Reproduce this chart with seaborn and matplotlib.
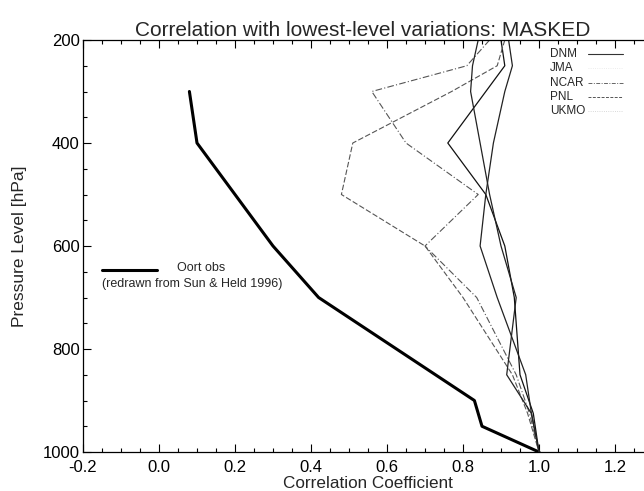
import numpy as np
import pandas as pd
import matplotlib
matplotlib.use("Agg")
import matplotlib.pyplot as plt
from matplotlib.ticker import MultipleLocator
from matplotlib.lines import Line2D
import seaborn as sns

# ---- data ----
oort_levels = [300, 400, 500, 600, 700, 900, 950, 1000]
oort_corr = [0.08, 0.10, 0.20, 0.30, 0.42, 0.83, 0.85, 1.00]

levels = [200, 250, 300, 400, 500, 600, 700, 850, 925, 1000]
dnm = [0.90, 0.91, 0.86, 0.76, 0.86, 0.91, 0.935, 0.95, 0.985, 1.00]
jma = [0.92, 0.93, 0.91, 0.88, 0.86, 0.845, 0.89, 0.965, 0.98, 1.00]
ncar = [0.87, 0.81, 0.56, 0.65, 0.84, 0.70, 0.836, 0.94, 0.975, 1.00]
pnl = [0.91, 0.89, 0.77, 0.51, 0.48, 0.70, 0.80, 0.93, 0.97, 1.00]
ukmo = [0.84, 0.825, 0.82, 0.845, 0.87, 0.90, 0.94, 0.915, 0.98, 1.00]

model_names = ["DNM", "JMA", "NCAR", "PNL", "UKMO"]
model_values = [dnm, jma, ncar, pnl, ukmo]

x_ticks = [-0.2, 0.0, 0.2, 0.4, 0.6, 0.8, 1.0, 1.2]
y_ticks = [200, 400, 600, 800, 1000]

title = "Correlation with lowest-level variations: MASKED"
xlabel = "Correlation Coefficient"
ylabel = "Pressure Level [hPa]"

# ---- figure ----
sns.set_theme(style="ticks")
plt.rcParams["font.family"] = ["Liberation Sans", "DejaVu Sans"]

fig = plt.figure(figsize=(6.44, 4.91), dpi=100)
ax = fig.add_axes([83 / 644, 1 - 452 / 491, (653 - 83) / 644, (452 - 40) / 491])

df_oort = pd.DataFrame({"corr": oort_corr, "p": oort_levels})
sns.lineplot(data=df_oort, x="corr", y="p", orient="y", sort=False,
             estimator=None, color="black", linewidth=2.2, ax=ax)

styles = {
    "DNM": dict(color="#111111", linestyle="-", linewidth=0.9),
    "JMA": dict(color="#222222", linestyle="-", linewidth=0.9),
    "NCAR": dict(color="#555555", linestyle=(0, (6, 2, 1, 2)), linewidth=0.8),
    "PNL": dict(color="#555555", linestyle=(0, (5, 2)), linewidth=0.8),
    "UKMO": dict(color="#222222", linestyle="-", linewidth=0.9),
}
legend_styles = {
    "DNM": dict(color="#333333", linestyle="-", linewidth=0.8),
    "JMA": dict(color="#e6e6e6", linestyle=":", linewidth=0.6),
    "NCAR": dict(color="#666666", linestyle=(0, (4, 1.5, 1, 1.5)), linewidth=0.7),
    "PNL": dict(color="#555555", linestyle=(0, (3, 1.5)), linewidth=0.7),
    "UKMO": dict(color="#cccccc", linestyle=":", linewidth=0.6),
}
for name, vals in zip(model_names, model_values):
    d = pd.DataFrame({"corr": vals, "p": levels})
    sns.lineplot(data=d, x="corr", y="p", orient="y", sort=False,
                 estimator=None, ax=ax, **styles[name])

ax.set_xlim(-0.2, 1.3)
ax.set_ylim(1000, 200)
ax.set_xticks(x_ticks)
ax.set_xticklabels([f"{t:.1f}" for t in x_ticks])
ax.set_yticks(y_ticks)
ax.xaxis.set_minor_locator(MultipleLocator(0.05))
ax.yaxis.set_minor_locator(MultipleLocator(50))
ax.tick_params(which="both", direction="in", top=True, right=True,
               labelsize=12, width=0.8, colors="black")
ax.tick_params(axis="x", which="major", pad=6)
ax.tick_params(axis="y", which="major", pad=2.5)
ax.tick_params(which="major", length=6)
ax.tick_params(which="minor", length=3)
for s in ax.spines.values():
    s.set_linewidth(0.9)
    s.set_color("black")

ax.set_title(title, fontsize=15, pad=2, x=0.49)
ax.set_xlabel(xlabel, fontsize=12.3, va="baseline")
ax.xaxis.set_label_coords(0.5, -(488 - 452) / 412)
ax.set_ylabel(ylabel, fontsize=12.5, va="center")
ax.yaxis.set_label_coords((20 - 83) / 570, 0.5)

# model legend: label on the left, line sample on the right
leg_x_text = (550 - 83) / 570
leg_x0, leg_x1 = (588 - 83) / 570, (623 - 83) / 570
leg_y0, leg_dy = (452 - 54) / 412, 14.3 / 412
for i, name in enumerate(model_names):
    y = leg_y0 - i * leg_dy
    ax.text(leg_x_text, y, name, transform=ax.transAxes, fontsize=8.5,
            ha="left", va="center")
    ax.add_line(Line2D([leg_x0, leg_x1], [y, y], transform=ax.transAxes,
                       **legend_styles[name]))

# Oort legend
ax.add_line(Line2D([(102 - 83) / 570, (157 - 83) / 570], [0.4417, 0.4417],
                   transform=ax.transAxes, color="black", linewidth=2.2))
ax.text((177 - 83) / 570, 0.447, "Oort obs", transform=ax.transAxes,
        fontsize=9, ha="left", va="center")
ax.text((102 - 83) / 570, 0.408, "(redrawn from Sun & Held 1996)",
        transform=ax.transAxes, fontsize=9, ha="left", va="center")

fig.savefig("out.png", dpi=100)
